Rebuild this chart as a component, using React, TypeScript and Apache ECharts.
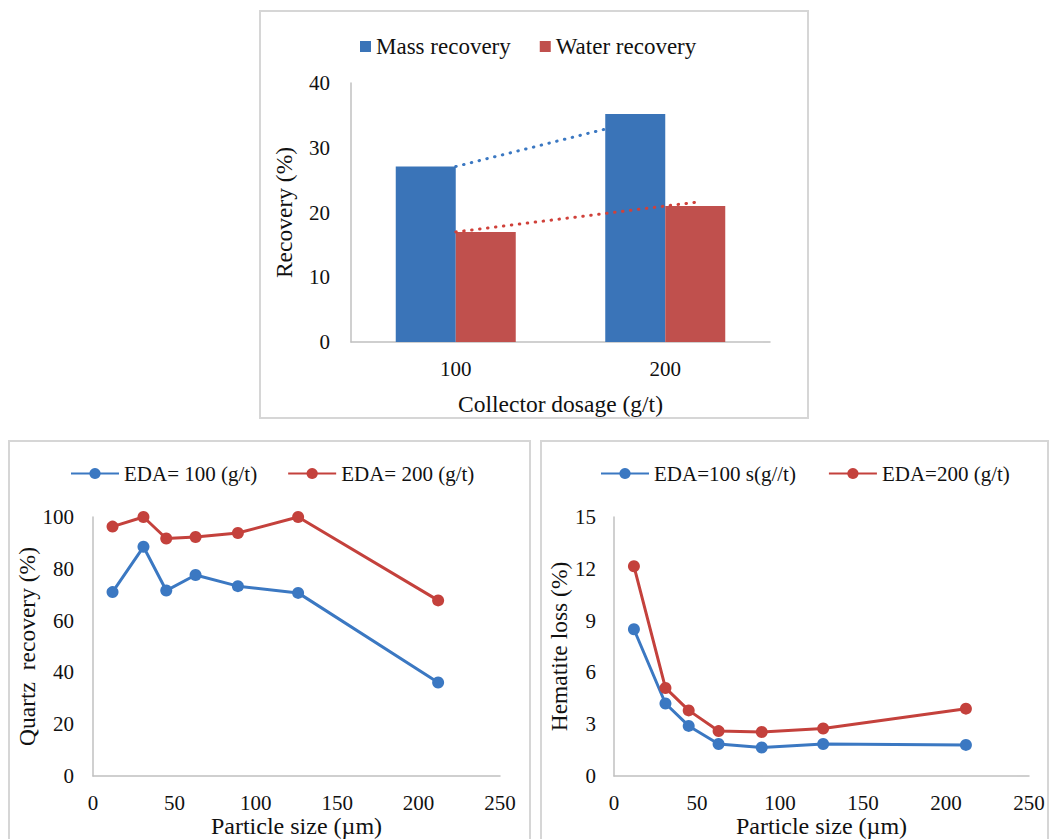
import React, { useEffect, useRef } from "react";
import * as echarts from "echarts";

const categories = ["100", "200"];
const massRecovery = [27.1, 35.2];
const waterRecovery = [17.0, 21.0];

const particleSizes = [12, 31, 45, 63, 89, 126, 212];
const quartz100 = [71.0, 88.5, 71.6, 77.6, 73.3, 70.7, 36.1];
const quartz200 = [96.3, 100, 91.7, 92.3, 93.8, 100, 67.8];
const hematite100 = [8.5, 4.2, 2.9, 1.85, 1.65, 1.85, 1.8];
const hematite200 = [12.15, 5.1, 3.8, 2.6, 2.55, 2.75, 3.9];

const recoveryTicks = { min: 0, max: 40, interval: 10 };
const quartzTicks = { min: 0, max: 100, interval: 20 };
const hematiteTicks = { min: 0, max: 15, interval: 3 };
const sizeTicks = { min: 0, max: 250, interval: 50 };

const FONT = "Liberation Serif";
const BLUE_BAR = "#3a74b8";
const RED_BAR = "#c0504d";
const BLUE_LINE = "#3b78c2";
const RED_LINE = "#c4413c";
const AXIS = "#c0c0c0";
const BORDER = "#d6d6d6";

// linear trend through two category points, extended
const trend = (v: number[], xEnd: number) => {
  const slope = v[1] - v[0];
  return [
    [1, v[0]],
    [xEnd, v[0] + slope * (xEnd - 1)],
  ];
};

export default function App() {
  const ref = useRef<HTMLDivElement>(null);
  useEffect(() => {
    if (!ref.current) return;
    const chart = echarts.init(ref.current, null, { renderer: "svg" });
    const tickLabel = { fontFamily: FONT, fontSize: 21, color: "#111" };
    const nameStyle = { fontFamily: FONT, fontSize: 23.5, color: "#111" };
    const axisLine = { show: true, lineStyle: { color: AXIS, width: 1.5 } };
    const lineSeries = (name: string, color: string, ys: number[], idx: number) => ({
      name,
      type: "line",
      xAxisIndex: idx,
      yAxisIndex: idx,
      data: particleSizes.map((x, i) => [x, ys[i]]),
      symbol: "circle",
      symbolSize: 12,
      lineStyle: { color, width: 3 },
      itemStyle: { color },
    });
    chart.setOption({
      animation: false,
      backgroundColor: "#fff",
      textStyle: { fontFamily: FONT },
      graphic: [
        { type: "rect", shape: { x: 260, y: 11, width: 548, height: 407 }, style: { fill: "none", stroke: BORDER, lineWidth: 2 } },
        { type: "rect", shape: { x: 9, y: 441, width: 521, height: 430 }, style: { fill: "none", stroke: BORDER, lineWidth: 2 } },
        { type: "rect", shape: { x: 541, y: 441, width: 507, height: 430 }, style: { fill: "none", stroke: BORDER, lineWidth: 2 } },
      ],
      legend: [
        {
          data: ["Mass recovery", "Water recovery"],
          left: 360,
          top: 35,
          padding: 0,
          itemWidth: 11,
          itemHeight: 11,
          itemGap: 29,
          icon: "rect",
          textStyle: { fontFamily: FONT, fontSize: 23, color: "#111" },
        },
        {
          data: ["EDA= 100 (g/t)", "EDA= 200 (g/t)"],
          left: 70,
          top: 463,
          padding: 0,
          itemWidth: 48,
          itemHeight: 14,
          itemGap: 30,
          textStyle: { fontFamily: FONT, fontSize: 21, color: "#111" },
        },
        {
          data: ["EDA=100 s(g//t)", "EDA=200 (g/t)"],
          left: 600,
          top: 463,
          padding: 0,
          itemWidth: 48,
          itemHeight: 14,
          itemGap: 32,
          textStyle: { fontFamily: FONT, fontSize: 21, color: "#111" },
        },
      ],
      grid: [
        { left: 351, top: 83, width: 419, height: 259 },
        { left: 93, top: 517, width: 407, height: 263 },
        { left: 614, top: 517, width: 415, height: 263 },
      ],
      xAxis: [
        {
          type: "category",
          gridIndex: 0,
          data: categories,
          axisLine,
          axisTick: { show: false },
          axisLabel: { ...tickLabel, margin: 16 },
          name: "Collector dosage (g/t)",
          nameLocation: "middle",
          nameGap: 50,
          nameTextStyle: nameStyle,
        },
        { type: "value", gridIndex: 0, min: 0.5, max: 2.5, show: false },
        {
          type: "value",
          gridIndex: 1,
          ...sizeTicks,
          axisLine,
          axisTick: { show: false },
          splitLine: { show: false },
          axisLabel: { ...tickLabel, margin: 16 },
          name: "Particle size (µm)",
          nameLocation: "middle",
          nameGap: 38,
          nameTextStyle: { ...nameStyle, fontSize: 24 },
        },
        {
          type: "value",
          gridIndex: 2,
          ...sizeTicks,
          axisLine,
          axisTick: { show: false },
          splitLine: { show: false },
          axisLabel: { ...tickLabel, margin: 16 },
          name: "Particle size (µm)",
          nameLocation: "middle",
          nameGap: 38,
          nameTextStyle: { ...nameStyle, fontSize: 24 },
        },
      ],
      yAxis: [
        {
          type: "value",
          gridIndex: 0,
          ...recoveryTicks,
          axisLine,
          axisTick: { show: false },
          splitLine: { show: false },
          axisLabel: { ...tickLabel, margin: 21 },
          name: "Recovery (%)",
          nameLocation: "middle",
          nameGap: 55,
          nameTextStyle: nameStyle,
        },
        { type: "value", gridIndex: 0, ...recoveryTicks, show: false },
        {
          type: "value",
          gridIndex: 1,
          ...quartzTicks,
          axisLine,
          axisTick: { show: false },
          splitLine: { show: false },
          axisLabel: { ...tickLabel, margin: 19 },
          name: "Quartz  recovery (%)",
          nameLocation: "middle",
          nameGap: 54,
          nameTextStyle: nameStyle,
        },
        {
          type: "value",
          gridIndex: 2,
          ...hematiteTicks,
          axisLine,
          axisTick: { show: false },
          splitLine: { show: false },
          axisLabel: { ...tickLabel, margin: 18 },
          name: "Hematite loss (%)",
          nameLocation: "middle",
          nameGap: 43,
          nameTextStyle: nameStyle,
        },
      ],
      series: [
        {
          name: "Mass recovery",
          type: "bar",
          xAxisIndex: 0,
          yAxisIndex: 0,
          data: massRecovery,
          barWidth: 60,
          barGap: "0%",
          itemStyle: { color: BLUE_BAR },
          z: 2,
        },
        {
          name: "Water recovery",
          type: "bar",
          xAxisIndex: 0,
          yAxisIndex: 0,
          data: waterRecovery,
          barWidth: 60,
          barGap: "0%",
          itemStyle: { color: RED_BAR },
          z: 2,
        },
        {
          name: "Mass trend",
          type: "line",
          xAxisIndex: 1,
          yAxisIndex: 1,
          data: trend(massRecovery, 2),
          symbol: "none",
          lineStyle: { color: BLUE_LINE, width: 3, type: [0.5, 7.5], cap: "round" },
          z: 1,
        },
        {
          name: "Water trend",
          type: "line",
          xAxisIndex: 1,
          yAxisIndex: 1,
          data: trend(waterRecovery, 2.15),
          symbol: "none",
          lineStyle: { color: "#d0413a", width: 3, type: [0.5, 7.5], cap: "round" },
          z: 3,
        },
        lineSeries("EDA= 100 (g/t)", BLUE_LINE, quartz100, 2),
        lineSeries("EDA= 200 (g/t)", RED_LINE, quartz200, 2),
        { ...lineSeries("EDA=100 s(g//t)", BLUE_LINE, hematite100, 3), xAxisIndex: 3, yAxisIndex: 3 },
        { ...lineSeries("EDA=200 (g/t)", RED_LINE, hematite200, 3), xAxisIndex: 3, yAxisIndex: 3 },
      ],
    });
    return () => chart.dispose();
  }, []);
  return (
    <div
      ref={ref}
      style={{ position: "absolute", left: 0, top: 0, width: 1049, height: 839, background: "#fff" }}
    />
  );
}
